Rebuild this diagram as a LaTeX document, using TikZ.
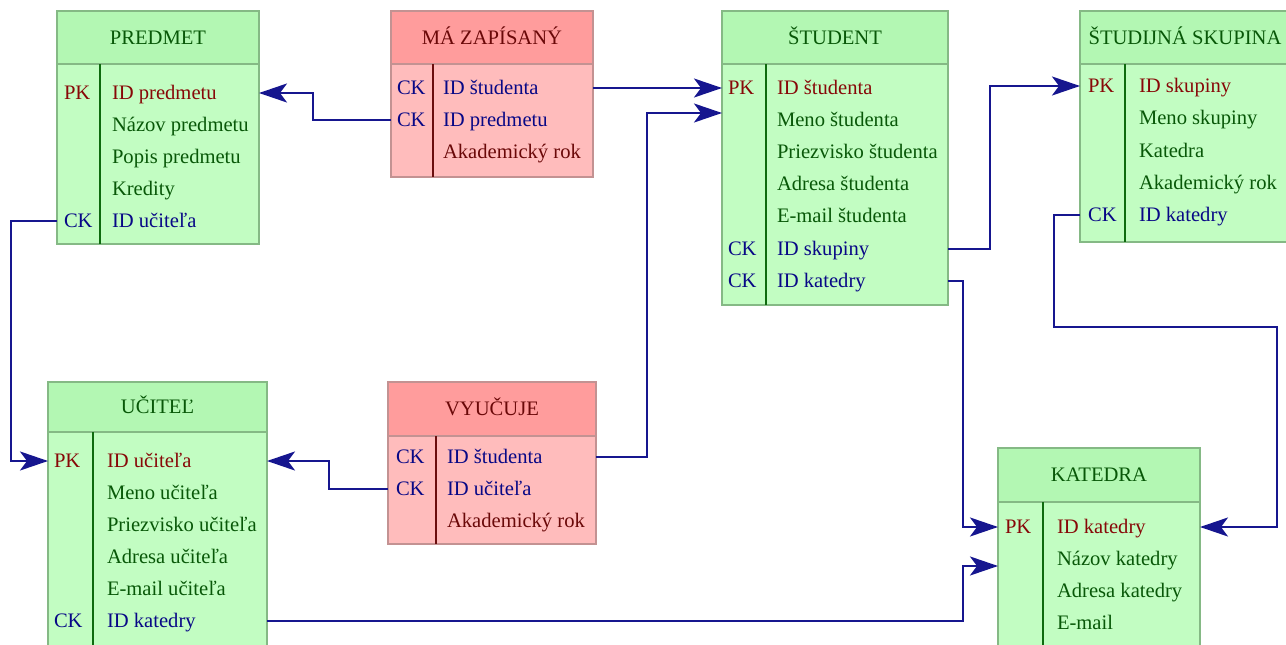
\documentclass[tikz,border=0pt]{standalone}
\usepackage{fontspec}
\setmainfont{Liberation Serif}
\usetikzlibrary{arrows.meta}

% palette
\definecolor{gHead}{HTML}{B3F7B3}
\definecolor{gBody}{HTML}{C2FDC2}
\definecolor{gLine}{HTML}{85B985}
\definecolor{gRule}{HTML}{0E6A0E}
\definecolor{rHead}{HTML}{FF9C9C}
\definecolor{rBody}{HTML}{FFBCBC}
\definecolor{rLine}{HTML}{C39292}
\definecolor{rRule}{HTML}{6A0E0E}
\definecolor{pkText}{HTML}{870808}
\definecolor{atText}{HTML}{085808}
\definecolor{ckText}{HTML}{080886}
\definecolor{relText}{HTML}{6A0808}
\definecolor{linkBlue}{HTML}{16168F}

\tikzset{
  tbl/.style={anchor=north west, inner sep=0pt, outer sep=0pt, line width=1.6pt},
  gbox/.style={tbl, draw=gLine, fill=gBody},
  ghead/.style={tbl, draw=gLine, fill=gHead, text=atText, text height=13.5pt, text depth=0pt},
  rbox/.style={tbl, draw=rLine, fill=rBody},
  rhead/.style={tbl, draw=rLine, fill=rHead, text=relText, text height=13.5pt, text depth=0pt},
  grule/.style={draw=gRule, line width=1.6pt},
  rrule/.style={draw=rRule, line width=1.6pt},
  txt/.style={anchor=west, inner sep=0pt, outer sep=0pt, text height=13.5pt, text depth=0pt},
  pk/.style={txt, text=pkText},
  ck/.style={txt, text=ckText},
  attr/.style={txt, text=atText},
  rattr/.style={txt, text=relText},
  fk/.style={draw=linkBlue, line width=2.2pt,
    -{Stealth[length=28pt, width=19pt, inset=7pt]}},
}

\begin{document}
\begin{tikzpicture}[x=1pt, y=-1pt, font=\fontsize{20.6}{24}\selectfont]
\useasboundingbox (0,0) rectangle (1286,645);
\clip (0,0) rectangle (1286,645);
\fill[white] (0,0) rectangle (1286,645);

% ---------- PREDMET ----------
\node[gbox, minimum width=202pt, minimum height=233pt] (predmet) at (57,11) {};
\node[ghead, minimum width=202pt, minimum height=53pt] (predmet-h) at (57,11) {PREDMET};
\draw[grule] (100,64) -- (100,244);
\node[pk] (predmet-k1) at (64,93) {PK};
\node[pk] (predmet-f1) at (112,93) {ID predmetu};
\node[attr] (predmet-f2) at (112,125) {Názov predmetu};
\node[attr] (predmet-f3) at (112,157) {Popis predmetu};
\node[attr] (predmet-f4) at (112,189) {Kredity};
\node[ck] (predmet-k5) at (64,221) {CK};
\node[ck] (predmet-f5) at (112,221) {ID učiteľa};

% ---------- MÁ ZAPÍSANÝ ----------
\node[rbox, minimum width=202pt, minimum height=166pt] (zap) at (391,11) {};
\node[rhead, minimum width=202pt, minimum height=53pt] (zap-h) at (391,11) {MÁ ZAPÍSANÝ};
\draw[rrule] (433,64) -- (433,177);
\node[ck] (zap-k1) at (397,88) {CK};
\node[ck] (zap-f1) at (443,88) {ID študenta};
\node[ck] (zap-k2) at (397,120) {CK};
\node[ck] (zap-f2) at (443,120) {ID predmetu};
\node[rattr] (zap-f3) at (443,152) {Akademický rok};

% ---------- ŠTUDENT ----------
\node[gbox, minimum width=226pt, minimum height=294pt] (student) at (722,11) {};
\node[ghead, minimum width=226pt, minimum height=53pt] (student-h) at (722,11) {ŠTUDENT};
\draw[grule] (766,64) -- (766,305);
\node[pk] (student-k1) at (728,88) {PK};
\node[pk] (student-f1) at (777,88) {ID študenta};
\node[attr] (student-f2) at (777,120) {Meno študenta};
\node[attr] (student-f3) at (777,152) {Priezvisko študenta};
\node[attr] (student-f4) at (777,184) {Adresa študenta};
\node[attr] (student-f5) at (777,216) {E-mail študenta};
\node[ck] (student-k6) at (728,249) {CK};
\node[ck] (student-f6) at (777,249) {ID skupiny};
\node[ck] (student-k7) at (728,281) {CK};
\node[ck] (student-f7) at (777,281) {ID katedry};
\coordinate (student-in) at (722,113);

% ---------- ŠTUDIJNÁ SKUPINA ----------
\node[gbox, minimum width=210pt, minimum height=231pt] (skupina) at (1080,11) {};
\node[ghead, minimum width=210pt, minimum height=53pt] (skupina-h) at (1080,11) {ŠTUDIJNÁ SKUPINA};
\draw[grule] (1125,64) -- (1125,242);
\node[pk] (skupina-k1) at (1088,86) {PK};
\node[pk] (skupina-f1) at (1139,86) {ID skupiny};
\node[attr] (skupina-f2) at (1139,118) {Meno skupiny};
\node[attr] (skupina-f3) at (1139,151) {Katedra};
\node[attr] (skupina-f4) at (1139,183) {Akademický rok};
\node[ck] (skupina-k5) at (1088,215) {CK};
\node[ck] (skupina-f5) at (1139,215) {ID katedry};

% ---------- UČITEĽ ----------
\node[gbox, minimum width=219pt, minimum height=280pt] (ucitel) at (48,382) {};
\node[ghead, minimum width=219pt, minimum height=50pt] (ucitel-h) at (48,382) {UČITEĽ};
\draw[grule] (93,432) -- (93,662);
\node[pk] (ucitel-k1) at (54,461) {PK};
\node[pk] (ucitel-f1) at (107,461) {ID učiteľa};
\node[attr] (ucitel-f2) at (107,493) {Meno učiteľa};
\node[attr] (ucitel-f3) at (107,525) {Priezvisko učiteľa};
\node[attr] (ucitel-f4) at (107,557) {Adresa učiteľa};
\node[attr] (ucitel-f5) at (107,589) {E-mail učiteľa};
\node[ck] (ucitel-k6) at (54,621) {CK};
\node[ck] (ucitel-f6) at (107,621) {ID katedry};

% ---------- VYUČUJE ----------
\node[rbox, minimum width=208pt, minimum height=162pt] (vyu) at (388,382) {};
\node[rhead, minimum width=208pt, minimum height=54pt] (vyu-h) at (388,382) {VYUČUJE};
\draw[rrule] (436,436) -- (436,544);
\node[ck] (vyu-k1) at (396,457) {CK};
\node[ck] (vyu-f1) at (447,457) {ID študenta};
\node[ck] (vyu-k2) at (396,489) {CK};
\node[ck] (vyu-f2) at (447,489) {ID učiteľa};
\node[rattr] (vyu-f3) at (447,521) {Akademický rok};

% ---------- KATEDRA ----------
\node[gbox, minimum width=202pt, minimum height=210pt] (katedra) at (998,448) {};
\node[ghead, minimum width=202pt, minimum height=54pt] (katedra-h) at (998,448) {KATEDRA};
\draw[grule] (1043,502) -- (1043,658);
\node[pk] (katedra-k1) at (1005,527) {PK};
\node[pk] (katedra-f1) at (1057,527) {ID katedry};
\node[attr] (katedra-f2) at (1057,559) {Názov katedry};
\node[attr] (katedra-f3) at (1057,591) {Adresa katedry};
\node[attr] (katedra-f4) at (1057,623) {E-mail};
\coordinate (katedra-in) at (998,566);
\coordinate (loopK) at (1277,327);

% ---------- relationships ----------
\draw[fk] (zap.west |- zap-f2) -- ++(-78,0) |- (predmet.east |- predmet-f1);
\draw[fk] (zap.east |- zap-f1) -- (student.west |- zap-f1);
\draw[fk] (vyu.east |- vyu-f1) -| ([xshift=-75pt]student-in) -- (student-in);
\draw[fk] (vyu.west |- vyu-f2) -- ++(-59,0) |- (ucitel.east |- ucitel-f1);
\draw[fk] (predmet.west |- predmet-f5) -- ++(-46,0) |- (ucitel.west |- ucitel-f1);
\draw[fk] (student.east |- student-f6) -- ++(42,0) |- (skupina.west |- skupina-f1);
\draw[fk] (student.east |- student-f7) -- ++(15,0) |- (katedra.west |- katedra-f1);
\draw[fk] (skupina.west |- skupina-f5) -- ++(-26,0) |- (loopK) |- (katedra.east |- katedra-f1);
\draw[fk] (ucitel.east |- ucitel-f6) -| ([xshift=-35pt]katedra-in) -- (katedra-in);
\end{tikzpicture}
\end{document}
